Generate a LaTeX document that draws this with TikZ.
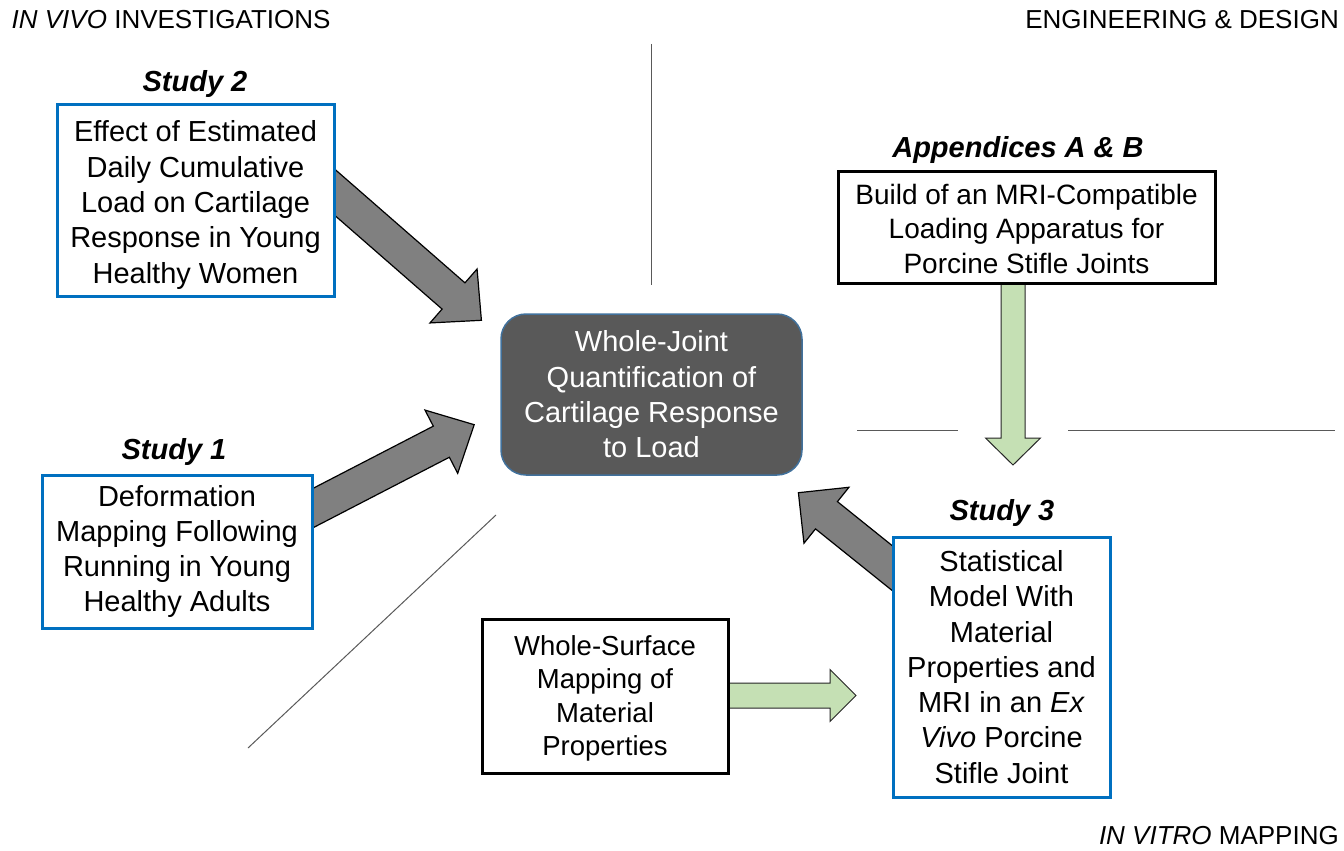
\documentclass[tikz,border=0pt]{standalone}
\usepackage{fontspec}
\setmainfont{Liberation Sans}
\usetikzlibrary{calc}
\definecolor{studyblue}{HTML}{0070C0}
\definecolor{centerfill}{HTML}{595959}
\definecolor{centerline}{HTML}{41719C}
\definecolor{arrowgray}{HTML}{808080}
\definecolor{arrowgreen}{HTML}{C5E0B4}
\definecolor{sepline}{HTML}{595959}

% #1 style, #2 start coordinate, #3 tip coordinate, #4 half shaft, #5 half head, #6 head length
\newcommand{\blockarrow}[6]{%
  \coordinate (#2-#3-h) at ($(#3)!#6!(#2)$);
  \draw[#1] ($(#2)!#4!90:(#3)$) -- ($(#2-#3-h)!#4!90:(#3)$) -- ($(#2-#3-h)!#5!90:(#3)$)
    -- (#3) -- ($(#2-#3-h)!#5!-90:(#3)$) -- ($(#2-#3-h)!#4!-90:(#3)$)
    -- ($(#2)!#4!-90:(#3)$) -- cycle;
}

\tikzset{
  boxtext/.style={align=center, inner sep=0pt, font=\fontsize{29}{35.3}\selectfont},
  studybox/.style={boxtext, draw=studyblue, line width=3pt, fill=white},
  plainbox/.style={boxtext, draw=black, line width=3pt, fill=white},
  centerbox/.style={boxtext, draw=centerline, line width=1.5pt, fill=centerfill,
    text=white, rounded corners=25pt},
  headlabel/.style={inner sep=0pt, font=\fontsize{29}{35}\selectfont\bfseries\itshape},
  cornerlabel/.style={inner sep=0pt, font=\fontsize{26}{30}\selectfont},
  grayarrow/.style={fill=arrowgray, draw=black, line width=1.2pt, line join=miter},
  greenarrow/.style={fill=arrowgreen, draw=black!85, line width=1pt, line join=miter},
  sep/.style={draw=sepline, line width=1pt}
}

\begin{document}
\begin{tikzpicture}[x=1pt, y=-1pt]
\useasboundingbox (0,0) rectangle (1344,851);

% separator lines
\draw[sep] (651,44) -- (651,285);
\draw[sep] (857,430) -- (958,430);
\draw[sep] (1068,430) -- (1335,430);
\draw[sep] (248,748) -- (496,515);

% corner labels
\node[cornerlabel, anchor=west] (lblvivo) at (11.5,20) {\textit{IN VIVO} INVESTIGATIONS};
\node[cornerlabel, anchor=east] (lbleng) at (1339,20) {ENGINEERING \& DESIGN};
\node[cornerlabel, anchor=east] (lblvitro) at (1339,836) {\textit{IN VITRO} MAPPING};

% arrow coordinates
\coordinate (a2s) at (320,179.4);
\coordinate (a2t) at (481.4,320.3);
\coordinate (a1s) at (300,514.8);
\coordinate (a1t) at (474.2,424.7);
\coordinate (a3s) at (910,582.4);
\coordinate (a3t) at (798.4,492.7);
\coordinate (gds) at (1013,283);
\coordinate (gdt) at (1013,465);
\coordinate (grs) at (728,695.5);
\coordinate (grt) at (856,695.5);

\blockarrow{grayarrow}{a2s}{a2t}{17.4pt}{35.8pt}{37pt}
\blockarrow{grayarrow}{a1s}{a1t}{17.5pt}{35.6pt}{37pt}
\blockarrow{grayarrow}{a3s}{a3t}{17.5pt}{35.9pt}{36pt}
\blockarrow{greenarrow}{gds}{gdt}{12pt}{27.5pt}{27pt}
\blockarrow{greenarrow}{grs}{grt}{12.5pt}{26pt}{26pt}

% boxes
\node[studybox, minimum width=277pt, minimum height=192pt] (study2) at (195.5,200)
  {\rule{0pt}{31pt}Effect of Estimated\\Daily Cumulative\\Load on Cartilage\\Response in Young\\Healthy Women};
\node[headlabel] (study2lbl) at (195,84.5) {Study 2};

\node[studybox, minimum width=270pt, minimum height=153pt] (study1) at (177,551.5)
  {Deformation\\Mapping Following\\Running in Young\\Healthy Adults};
\node[headlabel] (study1lbl) at (174,451.5) {Study 1};

\node[centerbox, minimum width=301pt, minimum height=161pt] (center) at (651.5,394.5)
  {Whole-Joint\\Quantification of\\Cartilage Response\\to Load};

\node[plainbox, font=\fontsize{28}{34.5}\selectfont, minimum width=377pt, minimum height=112pt] (app) at (1026.5,227)
  {\rule{0pt}{24pt}Build of an MRI-Compatible\\Loading Apparatus for\\Porcine Stifle Joints};
\node[headlabel] (applbl) at (1018,150.5) {Appendices A \& B};

\node[plainbox, font=\fontsize{27.5}{33.5}\selectfont, minimum width=246pt, minimum height=154pt] (surface) at (605,696)
  {\rule{0pt}{25pt}Whole-Surface\\Mapping of\\Material\\Properties};

\node[studybox, minimum width=217pt, minimum height=260pt] (study3) at (1001.5,667)
  {Statistical\\Model With\\Material\\Properties and\\MRI in an \textit{Ex}\\\textit{Vivo} Porcine\\Stifle Joint};
\node[headlabel] (study3lbl) at (1002,512.5) {Study 3};

\end{tikzpicture}
\end{document}
